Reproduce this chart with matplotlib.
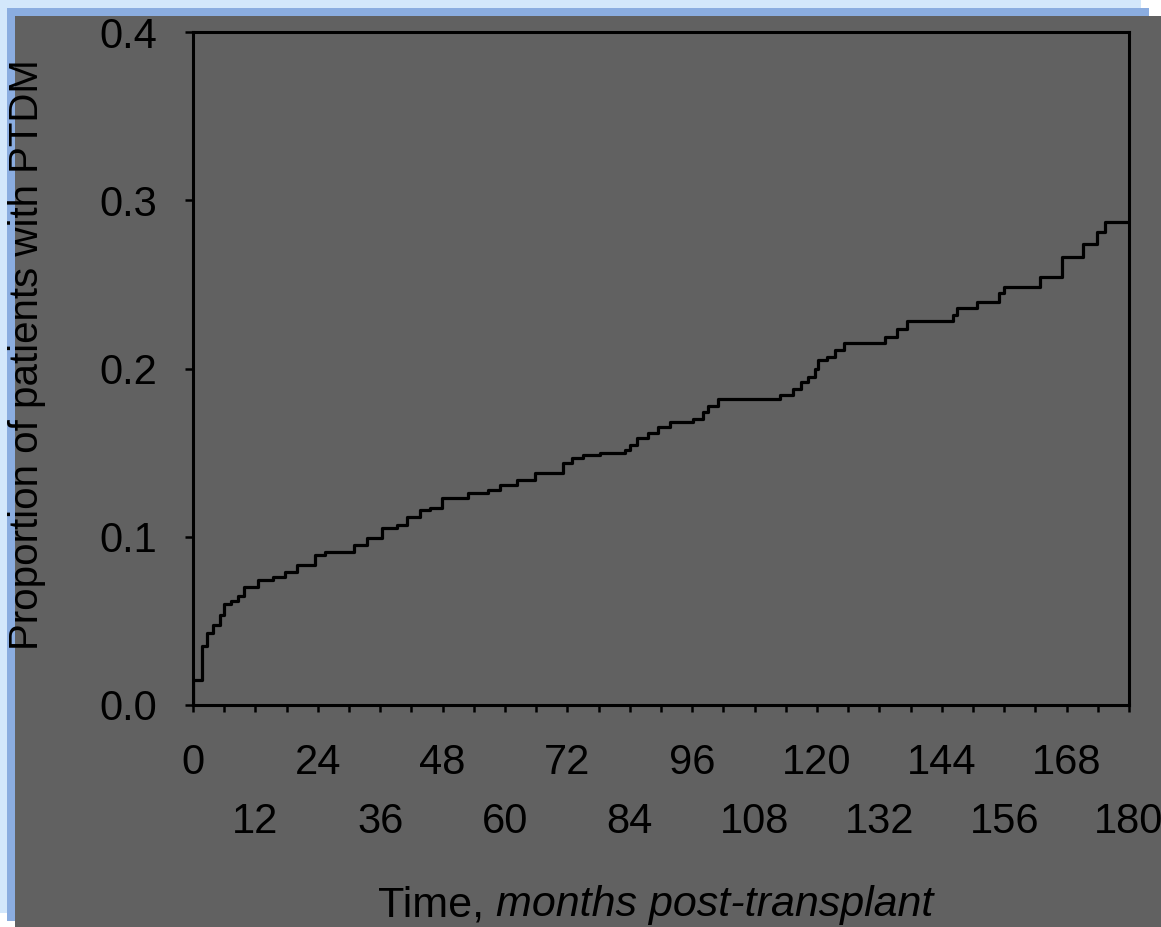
import matplotlib
matplotlib.use("Agg")
import matplotlib.pyplot as plt
from matplotlib.patches import Rectangle

plt.rcParams["font.family"] = ["Liberation Sans", "DejaVu Sans"]

# step curve: time (months) where the proportion jumps, and the value after the jump
months = [0, 0, 1.7, 2.7, 3.8, 5.2, 6.0, 7.4, 8.7, 9.8, 12.5, 15.4, 17.7, 20.0,
          23.5, 25.4, 31.0, 33.5, 36.3, 39.2, 41.2, 43.6, 45.5, 47.9, 52.9,
          56.7, 59.0, 62.3, 65.8, 71.2, 72.9, 75.0, 78.3, 83.0, 84.0, 85.4,
          87.5, 89.4, 91.7, 96.2, 98.1, 99.0, 101.0, 112.9, 115.4, 117.0,
          118.3, 119.6, 120.2, 122.0, 123.5, 125.2, 133.0, 135.4, 137.3,
          146.2, 147.0, 150.8, 155.0, 156.0, 162.9, 167.1, 171.2, 173.8,
          175.4, 180]
proportion = [0.0, 0.015, 0.035, 0.043, 0.0475, 0.0535, 0.060, 0.062, 0.065,
              0.070, 0.074, 0.076, 0.079, 0.083, 0.089, 0.091, 0.095, 0.099,
              0.105, 0.107, 0.112, 0.116, 0.117, 0.123, 0.126, 0.128, 0.131,
              0.134, 0.138, 0.144, 0.147, 0.1486, 0.150, 0.1516, 0.1545,
              0.1587, 0.1617, 0.165, 0.168, 0.170, 0.174, 0.178, 0.182, 0.184,
              0.188, 0.192, 0.195, 0.200, 0.205, 0.207, 0.211, 0.215, 0.2187,
              0.2235, 0.228, 0.2318, 0.236, 0.2395, 0.2449, 0.2484, 0.2544,
              0.2663, 0.274, 0.2811, 0.287, 0.287]

tick_months = list(range(0, 181, 6))
row1_months = list(range(0, 181, 24))   # 0, 24, ... 168
row2_months = list(range(12, 181, 24))  # 12, 36, ... 180
y_ticks = [0.0, 0.1, 0.2, 0.3, 0.4]
y_labels = ["0.0", "0.1", "0.2", "0.3", "0.4"]

W, H = 1161, 927
fig = plt.figure(figsize=(W / 100, H / 100), dpi=100, facecolor="white")

# background frame (px rectangles, y measured from top)
def px_rect(x0, y0, x1, y1, color):
    fig.patches.append(Rectangle((x0 / W, 1 - y1 / H), (x1 - x0) / W, (y1 - y0) / H,
                                 transform=fig.transFigure, color=color, lw=0, zorder=-5))

px_rect(0, 0, 1141, 8, "#d3e7fb")
px_rect(0, 0, 7, 913, "#d3e7fb")
px_rect(7, 8, 1149, 16, "#8badE0")
px_rect(7, 8, 15, 921, "#8badE0")
px_rect(15, 16, W, H, "#616161")

ax = fig.add_axes([193 / W, 1 - 705 / H, (1129 - 193) / W, (705 - 32) / H])
ax.set_facecolor("none")
ax.step(months, proportion, where="post", color="black", lw=2.3, zorder=3)

ax.set_xlim(0, 180)
ax.set_ylim(0, 0.4)

# every 6 months a tick; labels in two staggered rows
ax.xaxis.remove_overlapping_locs = False
ax.set_xticks(tick_months)
ax.set_xticklabels([str(m) if m in row1_months else "" for m in tick_months], fontsize=30)
ax.set_xticks(row2_months, minor=True)
ax.set_xticklabels([str(m) for m in row2_months], minor=True, fontsize=30)
ax.tick_params(axis="x", which="major", direction="out", length=5, width=1.8,
               pad=22, colors="black")
ax.tick_params(axis="x", which="minor", length=0, pad=70, colors="black")

ax.set_yticks(y_ticks)
ax.set_yticklabels(y_labels, fontsize=30)
ax.tick_params(axis="y", direction="out", length=6, width=1.8, pad=20)

for s in ax.spines.values():
    s.set_linewidth(2.2)
    s.set_color("black")

ax.set_ylabel("Proportion of patients with PTDM", fontsize=29)
ax.yaxis.set_label_coords(-0.157, 0.521)

t1 = fig.text(378 / W, 1 - 905 / H, "Time, ", fontsize=31, va="center", ha="left")
ax.annotate("months post-transplant", xy=(1, 0.5), xycoords=t1, va="center",
            ha="left", fontsize=31, style="italic", annotation_clip=False)

fig.savefig("out.png", dpi=100, facecolor=fig.get_facecolor())
